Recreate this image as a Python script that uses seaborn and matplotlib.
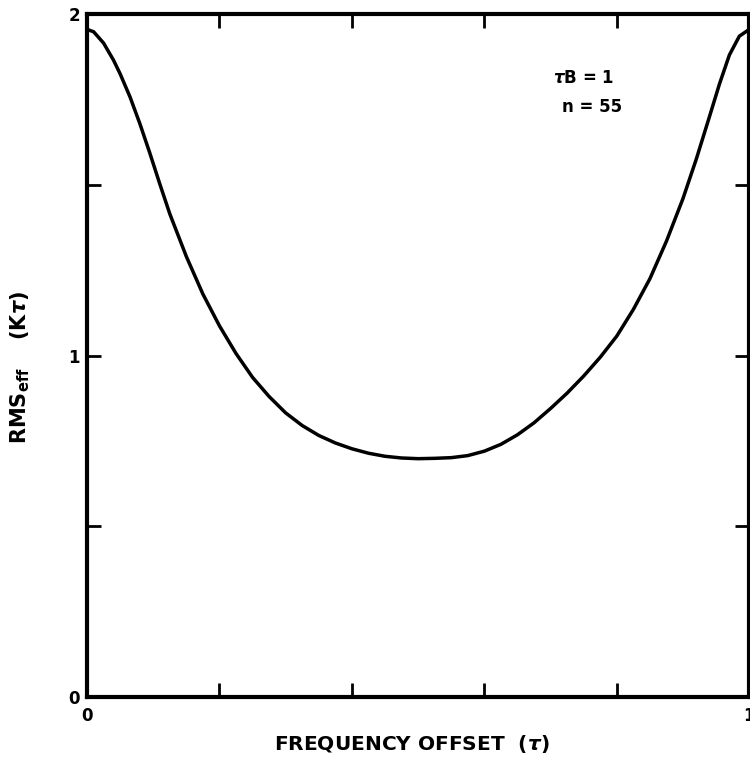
import numpy as np
import pandas as pd
import matplotlib
matplotlib.use('Agg')
import matplotlib.pyplot as plt
import seaborn as sns

# ── data ─────────────────────────────────────────────────────
freq_offset = [0.000, 0.010, 0.025, 0.040, 0.050, 0.065, 0.080, 0.095, 0.110,
               0.125, 0.150, 0.175, 0.200, 0.225, 0.250, 0.275, 0.300, 0.325,
               0.350, 0.375, 0.400, 0.425, 0.450, 0.475, 0.500, 0.525, 0.550,
               0.575, 0.600, 0.625, 0.650, 0.675, 0.700, 0.725, 0.750, 0.775,
               0.800, 0.825, 0.850, 0.875, 0.900, 0.920, 0.940, 0.955, 0.970,
               0.985, 1.000]
rms_eff = [1.955, 1.948, 1.915, 1.865, 1.825, 1.757, 1.678, 1.592, 1.502,
           1.415, 1.290, 1.180, 1.087, 1.006, 0.936, 0.880, 0.832, 0.795,
           0.766, 0.744, 0.727, 0.714, 0.705, 0.700, 0.698, 0.699, 0.701,
           0.707, 0.720, 0.740, 0.768, 0.803, 0.845, 0.890, 0.940, 0.995,
           1.057, 1.135, 1.225, 1.335, 1.460, 1.575, 1.700, 1.795, 1.880,
           1.935, 1.955]

x_ticks = [0, 0.2, 0.4, 0.6, 0.8, 1.0]
x_ticklabels = ['0', '', '', '', '', '1']
y_ticks = [0, 0.5, 1, 1.5, 2]
y_ticklabels = ['0', '', '1', '', '2']

df = pd.DataFrame({'x': freq_offset, 'y': rms_eff})

# ── style ────────────────────────────────────────────────────
sns.set_style('ticks')
plt.rcParams['font.family'] = ['DejaVu Sans']
plt.rcParams['font.weight'] = 'bold'
plt.rcParams['text.color'] = 'black'
plt.rcParams['axes.labelcolor'] = 'black'
plt.rcParams['mathtext.fontset'] = 'custom'
plt.rcParams['mathtext.rm'] = 'DejaVu Sans:bold'
plt.rcParams['mathtext.bf'] = 'DejaVu Sans:bold'
plt.rcParams['mathtext.it'] = 'DejaVu Sans:bold:italic'

fig = plt.figure(figsize=(7.5, 7.66), dpi=100)
ax = fig.add_axes([0.116, 0.090, 0.883, 0.8917])

sns.lineplot(data=df, x='x', y='y', ax=ax, color='black', lw=2.5, sort=False)

ax.set_xlim(0, 1)
ax.set_ylim(0, 2)
ax.set_xticks(x_ticks)
ax.set_xticklabels(x_ticklabels, fontsize=12, fontweight='bold')
ax.set_yticks(y_ticks)
ax.set_yticklabels(y_ticklabels, fontsize=12, fontweight='bold')
ax.tick_params(axis='both', direction='in', length=10, width=2, top=True,
               right=True, colors='black', labelcolor='black')
ax.tick_params(axis='y', pad=5)
ax.tick_params(axis='x', pad=7)
for s in ax.spines.values():
    s.set_linewidth(3)
    s.set_color('black')

ax.set_xlabel('FREQUENCY OFFSET  ($\\tau$)', fontsize=14.5, fontweight='bold',
              color='black')
ax.xaxis.set_label_coords(0.49, -0.069)
ax.xaxis.label.set_va('center')
ax.set_ylabel('RMS$_{\\mathbf{eff}}$    (K$\\tau$)', fontsize=15,
              fontweight='bold', color='black')
ax.yaxis.set_label_coords(-0.101, 0.483)
ax.yaxis.label.set_va('center')

ax.text(0.703, 1.813, '$\\tau$B = 1', fontsize=12, fontweight='bold',
        va='center', ha='left', color='black')
ax.text(0.718, 1.728, 'n = 55', fontsize=12, fontweight='bold',
        va='center', ha='left', color='black')

fig.savefig('out.png', dpi=100, facecolor='white')
plt.close()
